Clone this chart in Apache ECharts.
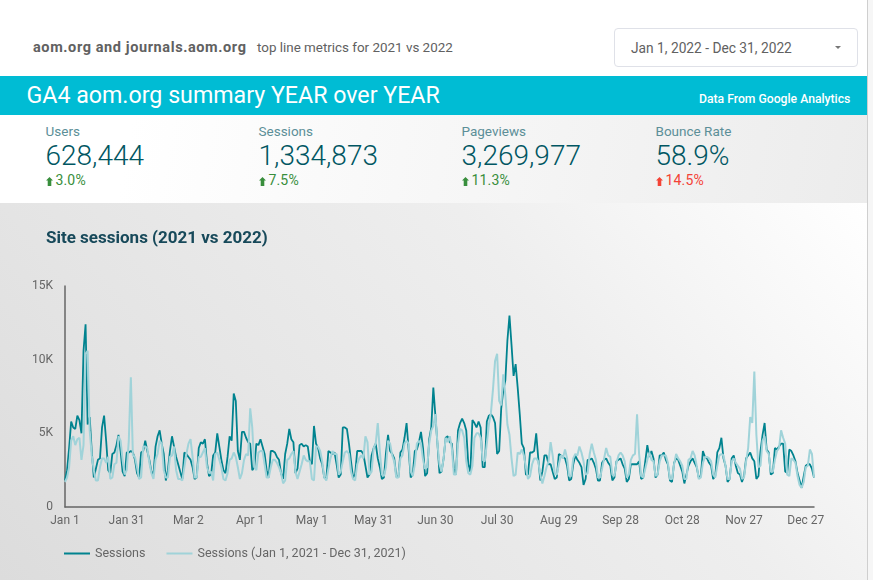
<!DOCTYPE html>
<html>
<head>
<meta charset="utf-8">
<script src="https://cdn.jsdelivr.net/npm/echarts@6/dist/echarts.min.js"></script>
<style>
  html, body { margin: 0; padding: 0; background: #fff; }
  body { width: 873px; height: 580px; position: relative; overflow: hidden; font-family: Roboto, sans-serif; }
  .abs { position: absolute; white-space: nowrap; }
  #band { left: 0; top: 76px; width: 867px; height: 39px; background: #00bcd4; }
  #kpi { left: 0; top: 115px; width: 867px; height: 88px; background: linear-gradient(100deg, #fff 15%, #ececec 100%); }
  #panel { left: 0; top: 203px; width: 867px; height: 377px; background: linear-gradient(50deg, #dcdcdc 0%, #e4e4e4 27%, #eee 65%, #fff 100%); }
  #edge { left: 867px; top: 0; width: 1px; height: 580px; background: #cfcfcf; }
  #strip { left: 868px; top: 0; width: 5px; height: 580px; background: #f6f6f6; }
  #chart { left: 0; top: 203px; width: 873px; height: 377px; }
  .lbl { font-size: 13.5px; color: #5c8f98; line-height: 16px; }
  .val { font-size: 28px; font-weight: 300; color: #005662; line-height: 32px; }
  .dlt { font-size: 14px; letter-spacing: .15px; line-height: 16px; }
  .dlt svg { margin-right: 3px; vertical-align: -1px; }
</style>
</head>
<body>
<div class="abs" style="left:33px;top:40px;font-size:14.5px;font-weight:700;color:#616161;letter-spacing:.6px;line-height:16px">aom.org and journals.aom.org</div>
<div class="abs" style="left:257px;top:40px;font-size:13.4px;color:#616161;line-height:16px">top line metrics for 2021 vs 2022</div>
<div class="abs" style="left:614px;top:28px;width:242px;height:37px;border:1px solid #dfe1e8;border-radius:4px"></div>
<div class="abs" style="left:631px;top:40px;font-size:13.75px;color:#616161;line-height:16px">Jan 1, 2022 - Dec 31, 2022</div>
<svg class="abs" style="left:835px;top:46px" width="7" height="4"><path d="M0 0H6L3 3Z" fill="#777"/></svg>
<div class="abs" id="band"></div>
<div class="abs" style="left:26.5px;top:80px;font-size:23.2px;color:#fff;line-height:30px">GA4 aom.org summary YEAR over YEAR</div>
<div class="abs" style="left:699px;top:91px;font-size:12.2px;font-weight:500;color:#fff;line-height:16px">Data From Google Analytics</div>
<div class="abs" id="kpi"></div>
<div id="kpis"></div>
<div class="abs" id="panel"></div>
<div class="abs" id="strip"></div>
<div class="abs" id="edge"></div>
<div class="abs" id="chart"></div>
<script>
const sessions2022 = [
  1.8,2.5,4,5.8,5.4,5.3,6.2,5.9,5,10.6,12.4,5.6,6.1,3.8,2,2.6,3.2,3.3,5.4,6.2,4.5,2.5,2.3,3.6,3.7,4.2,4.9,3.8,2.4,2.1,
  3.7,3.7,3.8,3.7,3.2,2.3,2,3.7,3.8,4.5,3.8,3.2,2.4,2.2,4.1,4.8,5.2,4.3,3.6,1.8,2.5,3.8,4.8,4.1,3.4,2.9,2.4,1.9,3.7,3.6,
  3.4,3.2,2.7,1.9,2,4,4.4,4.3,4.6,3,2.1,2.2,3.5,3.7,5,4.1,3.2,2.5,2.3,3.4,4.8,4.5,7.7,7.2,3.8,3.2,5.1,5.1,4.7,4.4,
  4.3,2.5,2.7,4.3,4.2,4.6,4.1,3.6,2.5,2,3.8,3.8,3.7,3.4,3.2,2.3,1.9,3.6,4.3,5.3,4.6,4.4,2.3,2.6,4.2,4.3,4.1,4.2,4.1,3.1,
  2.9,5.5,4.3,4,3.3,2.9,2,1.9,3.8,3.7,3.6,3.7,2.9,2,2.2,5.4,5.4,5.3,4.3,3.1,2,2.2,3.8,3.8,3.8,3.6,2.8,2,2.2,3.5,
  4,4.3,3.3,2.7,1.9,2,3.7,4.9,3.8,3.6,3.3,2.1,2,3.7,3.9,4.7,5.7,3.9,2,2.2,3.8,3.9,4.4,5.1,4,2.1,2.3,4.6,5.4,8.1,
  6.2,4.3,2.3,2.4,3.3,4.7,4.8,4.4,4.3,2.6,2.2,5.2,5.7,6,5.7,5.2,2.9,2.4,5.9,5.7,5.4,5.8,5.4,2.7,2.7,5.8,6.2,6.3,6.1,5.7,
  3.6,3.8,6.7,7.9,8.6,11.3,13,11,8.9,9.7,8.1,6.3,4.3,4,2.2,2.2,3.7,3.7,3.8,5,3.3,1.8,2.4,3.5,3.5,2.9,2.9,2.4,1.9,2,
  3.6,3.5,3.4,3.3,2.8,1.8,1.9,2.9,3.5,3.2,3,2.7,1.5,1.9,3.2,3.2,3.3,3,2.6,1.8,1.8,3,3.2,3.3,3,2.8,1.8,2,3.1,3.2,
  3.3,2.9,2.6,1.7,1.9,2.9,2.9,2.9,2.9,3.1,1.9,2,3.1,4.2,3.4,3.8,3.3,2,2.2,3.5,3.5,3.7,3.2,2.9,1.8,1.7,3,3.3,3.2,2.8,
  2.4,1.6,2.2,2.8,3.1,3.3,3,2.7,2,2.1,3.8,3.4,3.3,3,2.8,1.9,2.1,3.7,4,4.7,3.3,2.8,1.7,1.9,3.3,3.5,2.8,2.3,2.2,1.7,
  2.1,3.3,3.5,3.7,3.3,3.1,1.9,2.1,3.8,4.9,5.7,3.9,3.7,2.2,2.3,4,3.9,4.1,4.3,4.3,2.4,2.3,3.9,3.8,3.5,3.1,2.3,1.8,1.3,2.1,
  2.8,2.9,2.9,2.6,2
];
const sessions2021 = [
  1.7,2,2.7,4.5,4.8,4.2,4.6,4.7,3.2,4.2,10.4,10.6,5.2,3.5,2.5,1.8,1.8,2.7,3.3,3.3,3,3.4,1.9,2,2.9,3,4.8,4.5,3.2,2.2,
  2.5,4.5,8.8,3.5,3.4,2.7,1.9,2,4.1,4.1,4,3,2.3,1.9,3.2,3.6,4.5,4.3,2.5,2,2,3.4,3.5,4.1,2.5,1.9,1.9,1.8,2.7,3.6,
  4.3,4.6,3.4,2,2,3.4,3.4,3.7,4,2.7,2.3,2.4,1.8,3.6,3.7,3.2,2.7,1.9,1.8,2.3,3.2,3.3,3.7,3.4,2.7,1.9,2.3,3.2,3.6,3.5,
  6.7,5.4,2.7,2.5,3.7,3.8,3.8,2.9,2,2,2.7,3.2,3.2,3,2.7,2.3,1.6,1.8,3.2,3.3,3.6,3.8,2.4,1.9,2.4,2.9,3.5,3.2,3.1,3.1,
  1.9,1.8,4.1,4.1,3.8,3.1,2,1.8,2.6,3.3,3.8,3.6,3.6,2.2,2.4,3.1,3.7,3.8,3.6,2.4,1.9,1.8,2.9,3.3,3.5,3.3,4.8,4.4,2.2,2.4,
  4,4.3,5.7,3.8,2.2,2.1,2.7,4.5,4.3,3.5,3.1,2,2,3.3,3.5,4.3,4.5,4.3,2.4,2.1,2.9,4.3,4.5,4.3,3.2,2.6,2.7,4.3,5.2,5.5,
  6.3,4.3,2.9,2.4,3.3,4.7,4.4,4.8,4,2.2,2.2,4.3,5.3,5.2,4.7,3.1,2.3,2.2,2.8,4.7,5,5,4.7,3.2,3.1,4.3,5.6,6.4,8,9.9,
  10.4,7.2,6.9,9,7.6,5.6,4.9,3.3,2.1,2.2,3.7,3.6,3.9,3.5,2.7,1.9,2.1,2.9,3.3,3.3,3.1,2.2,1.6,2.1,2.7,3.1,4.4,3.5,2.3,2.2,
  2.9,3.5,3.3,3.9,3.3,2.1,2.1,3.3,3.6,3.5,4.1,3.7,3.1,2.2,2.3,3.6,4.3,3.7,3.2,2,2,2.6,3.3,4,3.5,3.4,2.2,2.1,3,3.5,
  3.7,3.5,3.1,2,2.2,3.2,3.5,3.6,6.3,3.6,2.1,2,2.6,3.2,3.7,3.2,3.1,2.1,2.2,3.1,3.5,3.5,3.5,3,1.9,1.9,2.9,3.6,3.3,3.1,
  2.8,1.9,1.9,3.2,3.3,3.8,3.5,2.8,1.9,2,3,3.4,3.4,3.3,3.1,2.2,2,2.8,3.5,3.6,3.5,2.8,1.9,1.9,3.1,3.3,3,2.8,2.6,1.9,
  2,3.1,4,6.1,5.7,9.2,4.9,2.7,2.8,4.5,4.8,3.8,3.6,2.4,2.4,3.2,3.8,4,5.2,4.7,4.3,2.2,2.1,3.3,3.2,3,2.1,1.5,1.3,1.7,
  2.7,2.8,3.9,3.6,2
];
const yTicks = ['0', '5K', '10K', '15K'];
const seriesNames = ['Sessions', 'Sessions (Jan 1, 2021 - Dec 31, 2021)'];
const kpiNames = ['Users', 'Sessions', 'Pageviews', 'Bounce Rate'];
const kpiValues = ['628,444', '1,334,873', '3,269,977', '58.9%'];
const kpiDeltas = ['3.0%', '7.5%', '11.3%', '14.5%'];
const kpiColors = ['#388e3c', '#388e3c', '#388e3c', '#f44336'];
const kpiLeft = [45.5, 258.5, 461.5, 655.5];

kpiNames.forEach((name, i) => {
  const arrow = `<svg width="7" height="10"><path d="M3.5 1L7 4.5H5.3V10H1.7V4.5H0Z" fill="${kpiColors[i]}"/></svg>`
  document.getElementById('kpis').innerHTML +=
    `<div class="abs lbl" style="left:${kpiLeft[i]}px;top:123px">${name}</div>` +
    `<div class="abs val" style="left:${kpiLeft[i]}px;top:140px">${kpiValues[i]}</div>` +
    `<div class="abs dlt" style="left:${kpiLeft[i]}px;top:172px;color:${kpiColors[i]}">${arrow}${kpiDeltas[i]}</div>`
})

// one label per day of 2022, the axis shows every 30th
const days = []
for (let d = new Date(Date.UTC(2022, 0, 1)); d.getUTCFullYear() === 2022; d.setUTCDate(d.getUTCDate() + 1)) {
  days.push(d.toLocaleDateString('en-US', { month: 'short', day: 'numeric', timeZone: 'UTC' }))
}

const chart = echarts.init(document.getElementById('chart'))
chart.setOption({
  animation: false,
  textStyle: { fontFamily: 'Roboto' },
  title: {
    text: 'Site sessions (2021 vs 2022)',
    left: 41, top: 22,
    textStyle: { fontSize: 17, fontWeight: 700, color: '#17495a', fontFamily: 'Roboto' }
  },
  legend: {
    left: 59, top: 339, icon: 'path://M0 0H26V2H0Z',
    itemWidth: 26, itemHeight: 2, itemGap: 21,
    textStyle: { fontSize: 12.5, color: '#666', fontFamily: 'Roboto' },
    data: seriesNames
  },
  grid: { left: 65, right: 59, top: 83, bottom: 73 },
  xAxis: {
    type: 'category', data: days, boundaryGap: false,
    axisLine: { lineStyle: { color: '#666', width: 1.5 } },
    axisTick: { show: false },
    axisLabel: { interval: i => i % 30 === 0, color: '#666', fontSize: 12, margin: 8, fontFamily: 'Roboto' }
  },
  yAxis: {
    type: 'value', min: 0, max: 15, interval: 5,
    axisLine: { show: true, lineStyle: { color: '#666', width: 1.5 } },
    axisTick: { show: false },
    splitLine: { show: false },
    axisLabel: { color: '#666', fontSize: 12, margin: 12, fontFamily: 'Roboto', formatter: v => yTicks[v / 5] }
  },
  series: [
    { name: seriesNames[0], type: 'line', data: sessions2022, symbol: 'none', lineStyle: { width: 1.8, color: '#00838f' }, itemStyle: { color: '#00838f' } },
    { name: seriesNames[1], type: 'line', data: sessions2021, symbol: 'none', lineStyle: { width: 2, color: '#a0d3d9' }, itemStyle: { color: '#a0d3d9' } }
  ]
})
</script>
</body>
</html>
